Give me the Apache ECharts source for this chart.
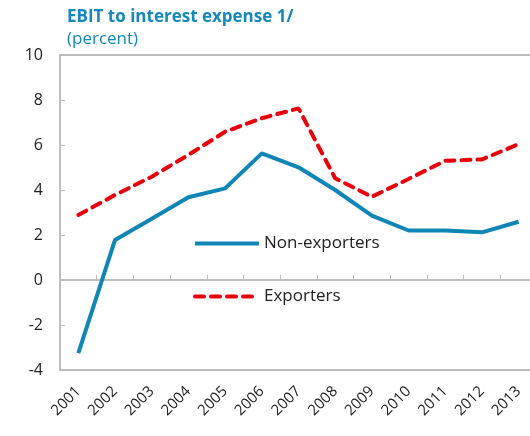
<!DOCTYPE html>
<html>
<head>
<meta charset="utf-8">
<script src="https://cdn.jsdelivr.net/npm/echarts@6/dist/echarts.min.js"></script>
<style>html,body{margin:0;padding:0;background:#fff}#c{width:530px;height:436px}</style>
</head>
<body>
<div id="c"></div>
<script>
const years = ['2001','2002','2003','2004','2005','2006','2007','2008','2009','2010','2011','2012','2013'];
const nonExporters = [-3.25, 1.78, 2.72, 3.68, 4.07, 5.63, 5.01, 4.0, 2.86, 2.2, 2.2, 2.12, 2.59];
const exporters = [2.89, 3.78, 4.59, 5.56, 6.59, 7.19, 7.63, 4.52, 3.70, 4.49, 5.30, 5.36, 6.04];
const yTicks = {min: -4, max: 10, interval: 2};

const FONT = 'Open Sans';
const chart = echarts.init(document.getElementById('c'), null, {renderer: 'canvas'});
chart.setOption({
  animation: false,
  textStyle: {fontFamily: FONT},
  title: {
    text: 'EBIT to interest expense 1/',
    subtext: '(percent)',
    left: 62, top: 4, itemGap: 5,
    textStyle: {fontFamily: FONT, fontWeight: 'bold', fontSize: 17, color: '#1489bd'},
    subtextStyle: {fontFamily: FONT, fontSize: 17, color: '#1489bd'}
  },
  legend: {
    orient: 'vertical', left: 188, top: 230, itemGap: 36,
    itemWidth: 64, itemHeight: 14,
    itemStyle: {opacity: 0},
    lineStyle: {width: 4},
    textStyle: {fontFamily: FONT, fontSize: 17, color: '#222'},
    data: ['Non-exporters', 'Exporters']
  },
  grid: {left: 60, width: 477, top: 55, bottom: 66, show: true, borderColor: '#bdbdbd', borderWidth: 2,
    containLabel: false, outerBoundsMode: 'none'},
  xAxis: [
    {type: 'category', data: years, position: 'bottom', boundaryGap: true,
     axisLine: {show: false, onZero: false}, axisTick: {show: false},
     axisLabel: {rotate: 45, fontSize: 15, color: '#222', margin: 19, fontFamily: FONT, interval: 0},
     splitLine: {show: false}},
    {type: 'category', data: years, position: 'bottom', boundaryGap: true,
     axisLine: {show: true, onZero: true, lineStyle: {color: '#bdbdbd', width: 2}},
     axisTick: {show: true, inside: true, length: 5, lineStyle: {color: '#bdbdbd', width: 1}},
     axisLabel: {show: false}, splitLine: {show: false}}
  ],
  yAxis: {type: 'value', min: yTicks.min, max: yTicks.max, interval: yTicks.interval,
    axisLine: {show: true, lineStyle: {color: '#bdbdbd', width: 2}},
    axisTick: {show: true, inside: true, length: 5, lineStyle: {color: '#bdbdbd'}},
    axisLabel: {fontSize: 16, color: '#222', margin: 17, fontFamily: FONT},
    splitLine: {show: false}},
  series: [
    {name: 'Non-exporters', type: 'line', data: nonExporters, xAxisIndex: 0, symbol: 'none',
     lineStyle: {color: '#0f86b6', width: 4}, itemStyle: {color: '#0f86b6'}},
    {name: 'Exporters', type: 'line', data: exporters, xAxisIndex: 0, symbol: 'none',
     lineStyle: {color: '#e8000b', width: 4, type: [9, 7], cap: 'round'}, itemStyle: {color: '#e8000b'}}
  ]
});
</script>
</body>
</html>
